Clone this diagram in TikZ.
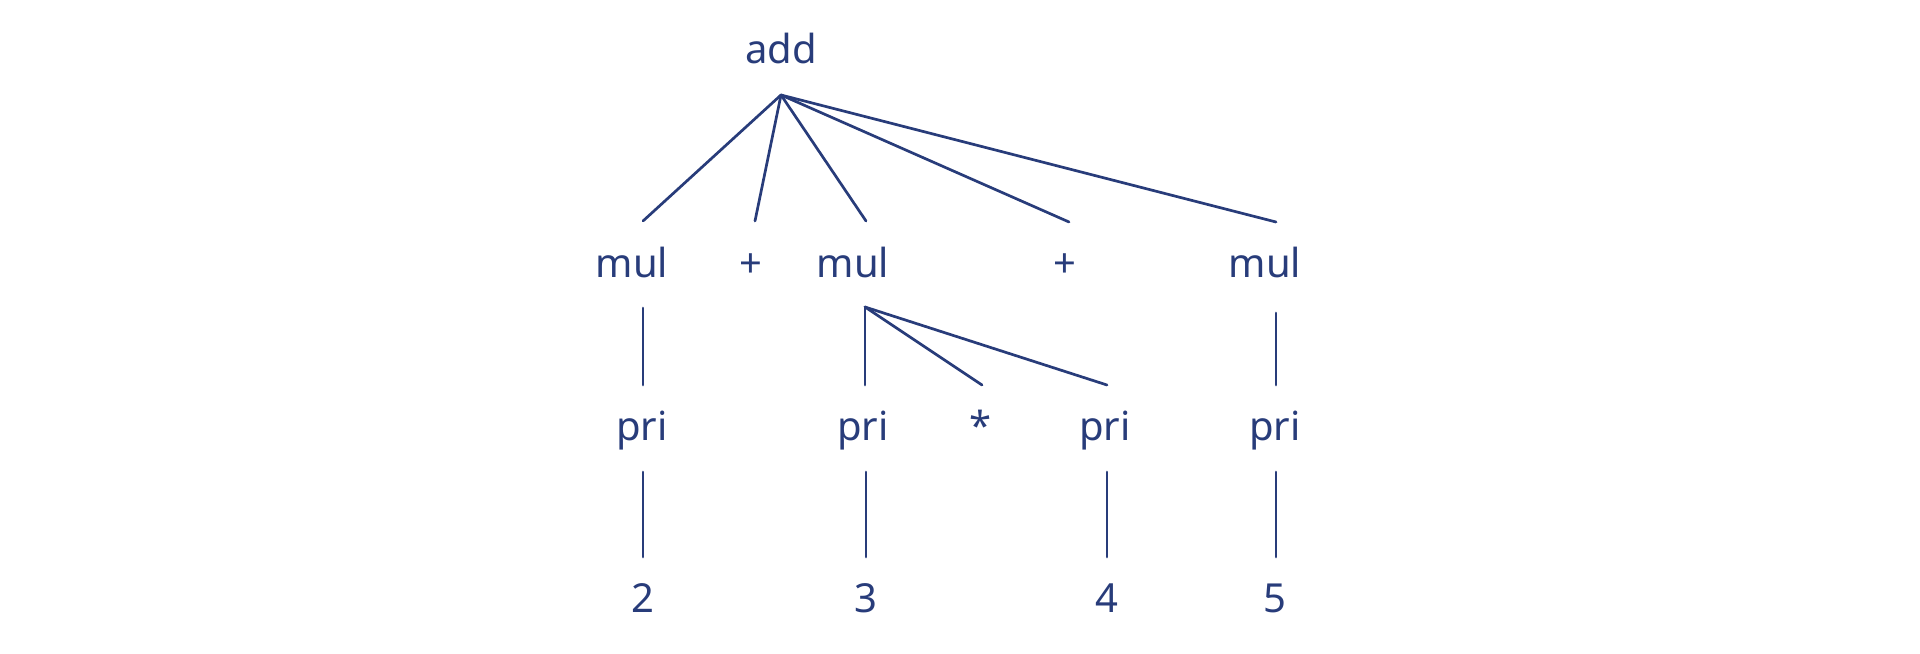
\documentclass[tikz,border=0pt]{standalone}
\usepackage{fontspec}
\setmainfont{Noto Sans}
\definecolor{ink}{RGB}{40,60,122}
\begin{document}
\begin{tikzpicture}[x=0.5pt,y=-0.5pt,
  lbl/.style={anchor=base,inner sep=0pt,text=ink,font=\fontsize{20}{24}\selectfont},
  edge/.style={draw=ink,line width=1.35pt,line cap=round}]
\useasboundingbox (0,0) rectangle (1920,653);
% labels
\node[lbl] (add) at (781,63) {add};
\node[lbl] (mulA) at (632,277) {mul};
\node[lbl] (plusA) at (751,277) {+};
\node[lbl] (mulB) at (853,277) {mul};
\node[lbl] (plusB) at (1065,277) {+};
\node[lbl] (mulC) at (1265,277) {mul};
\node[lbl] (priA) at (642,440) {pri};
\node[lbl] (priB) at (863,440) {pri};
\node[lbl] (star) at (981,440) {*};
\node[lbl] (priC) at (1105,440) {pri};
\node[lbl] (priD) at (1275,440) {pri};
\node[lbl] (two) at (643,612) {2};
\node[lbl] (three) at (866,612) {3};
\node[lbl] (four) at (1107,612) {4};
\node[lbl] (five) at (1275,612) {5};
% connector end points
\coordinate (addB) at (781,95);
\coordinate (mulAt) at (643,221);
\coordinate (plusAt) at (755,221);
\coordinate (mulBt) at (866,221);
\coordinate (plusBt) at (1069,222);
\coordinate (mulCt) at (1276,222);
\coordinate (mulAb) at (643,308);
\coordinate (mulBb) at (865,307);
\coordinate (mulCb) at (1276,313);
\coordinate (priAt) at (643,385);
\coordinate (priBt) at (865,385);
\coordinate (start) at (982,385);
\coordinate (priCt) at (1107,385);
\coordinate (priDt) at (1276,385);
\coordinate (priAb) at (643,472);
\coordinate (priBb) at (866,472);
\coordinate (priCb) at (1107,472);
\coordinate (priDb) at (1276,472);
\coordinate (twot) at (643,557);
\coordinate (threet) at (866,557);
\coordinate (fourt) at (1107,557);
\coordinate (fivet) at (1276,557);
% connectors
\draw[edge] (addB) -- (mulAt);
\draw[edge] (addB) -- (plusAt);
\draw[edge] (addB) -- (mulBt);
\draw[edge] (addB) -- (plusBt);
\draw[edge] (addB) -- (mulCt);
\draw[edge] (mulAb) -- (priAt);
\draw[edge] (mulBb) -- (priBt);
\draw[edge] (mulBb) -- (start);
\draw[edge] (mulBb) -- (priCt);
\draw[edge] (mulCb) -- (priDt);
\draw[edge] (priAb) -- (twot);
\draw[edge] (priBb) -- (threet);
\draw[edge] (priCb) -- (fourt);
\draw[edge] (priDb) -- (fivet);
\end{tikzpicture}
\end{document}
